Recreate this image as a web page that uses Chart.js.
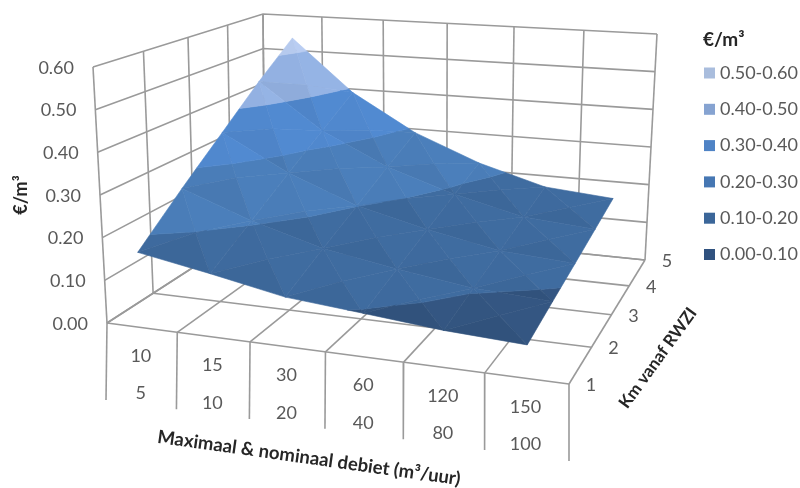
<!DOCTYPE html>
<html lang="nl">
<head>
<meta charset="UTF-8" />
<title>Kosten per m3</title>
<script src="https://cdn.jsdelivr.net/npm/chart.js"></script>
<style>
  body { margin: 0; background: #fff; }
  canvas { display: block; filter: blur(0.55px); }
</style>
</head>
<body>
<canvas id="surface" width="800" height="488"></canvas>
<script>
// category labels
const maximaalDebiet = ['10', '15', '30', '60', '120', '150'];
const nominaalDebiet = ['5', '10', '20', '40', '80', '100'];
const kmLabels = ['1', '2', '3', '4', '5'];
const zTicks = [0, 0.1, 0.2, 0.3, 0.4, 0.5, 0.6];

// euro per m3, one list per km
const costKm1 = [0.175, 0.145, 0.112, 0.097, 0.081, 0.072];
const costKm2 = [0.268, 0.206, 0.157, 0.128, 0.103, 0.093];
const costKm3 = [0.358, 0.268, 0.201, 0.159, 0.125, 0.113];
const costKm4 = [0.450, 0.329, 0.246, 0.190, 0.148, 0.134];
const costKm5 = [0.535, 0.390, 0.290, 0.220, 0.170, 0.155];
const costRows = [costKm1, costKm2, costKm3, costKm4, costKm5];

// legend, bottom band first
const bandLabels = ['0.00-0.10', '0.10-0.20', '0.20-0.30', '0.30-0.40', '0.40-0.50', '0.50-0.60'];
const bandFrom = [0, 0.1, 0.2, 0.3, 0.4, 0.5];
const bandTo = [0.1, 0.2, 0.3, 0.4, 0.5, 0.6];

// styles
const surfaceColors = [[51, 85, 128], [62, 106, 158], [74, 125, 184], [80, 136, 206], [147, 177, 226], [182, 202, 238]];
const legendColors = ['#30527f', '#3b6699', '#4677b3', '#4f83c5', '#86a3d1', '#a9bddd'];
const sideShade = { back: 1.015, left: 1.0, right: 1.015, front: 0.97 };
const gridColor = '#9a9a9a';
const tickColor = '#595959';
const titleColor = '#262626';
const fontName = 'Lato, "Open Sans", sans-serif';

// camera: corners of the box on the page (front left, front right, back right, back left)
const floorCorners = [[107, 323], [569, 384], [645, 260], [265, 221]];
const topCorners = [[93, 67], [580, 103], [657, 34], [263, 14]];
const zMax = 0.6;

function makeQuad(c) {
  const dx1 = c[1][0] - c[2][0], dx2 = c[3][0] - c[2][0], sx = c[0][0] - c[1][0] + c[2][0] - c[3][0];
  const dy1 = c[1][1] - c[2][1], dy2 = c[3][1] - c[2][1], sy = c[0][1] - c[1][1] + c[2][1] - c[3][1];
  const den = dx1 * dy2 - dx2 * dy1;
  const g = (sx * dy2 - dx2 * sy) / den;
  const h = (dx1 * sy - sx * dy1) / den;
  const a = c[1][0] - c[0][0] + g * c[1][0], b = c[3][0] - c[0][0] + h * c[3][0];
  const d = c[1][1] - c[0][1] + g * c[1][1], e = c[3][1] - c[0][1] + h * c[3][1];
  return function (u, v) {
    const w = g * u + h * v + 1;
    return [(a * u + b * v + c[0][0]) / w, (d * u + e * v + c[0][1]) / w];
  };
}
const floorQuad = makeQuad(floorCorners);
const topQuad = makeQuad(topCorners);

function project(u, v, z) {
  const p = floorQuad(u, v), q = topQuad(u, v), t = z / zMax;
  return { x: p[0] + (q[0] - p[0]) * t, y: p[1] + (q[1] - p[1]) * t };
}

const datasets = [];

function addGrid(points) {
  datasets.push({ data: points, showLine: true, borderColor: gridColor, borderWidth: 1.6, pointRadius: 0, fill: false });
}

// walls and floor
zTicks.forEach(z => {
  addGrid([project(0, 0, z), project(0, 1, z), project(1, 1, z)]);
});
kmLabels.forEach((km, j) => {
  const v = j / 4;
  addGrid([project(0, v, 0), project(0, v, zMax)]);
  addGrid([project(0, v, 0), project(1, v, 0)]);
});
for (let i = 0; i <= maximaalDebiet.length; i++) {
  const u = i / maximaalDebiet.length;
  addGrid([project(u, 1, 0), project(u, 1, zMax)]);
  addGrid([project(u, 0, 0), project(u, 1, 0)]);
  // separators of the two label rows
  const foot = project(u, 0, 0);
  addGrid([foot, { x: foot.x - 1 + u, y: foot.y + 77 }]);
}

// cut a polygon to the part between two heights
function clipAbove(poly, level, keepAbove) {
  const out = [];
  poly.forEach((a, n) => {
    const b = poly[(n + 1) % poly.length];
    const aIn = keepAbove ? a.z >= level : a.z <= level;
    const bIn = keepAbove ? b.z >= level : b.z <= level;
    if (aIn) out.push(a);
    if (aIn !== bIn) {
      const t = (level - a.z) / (b.z - a.z);
      out.push({ u: a.u + (b.u - a.u) * t, v: a.v + (b.v - a.v) * t, z: level });
    }
  });
  return out;
}

function addFacet(tri, side) {
  bandFrom.forEach((from, b) => {
    const poly = clipAbove(clipAbove(tri, from, true), bandTo[b], false);
    if (poly.length < 3) return;
    const pts = poly.map(p => project(p.u, p.v, p.z));
    pts.push(pts[0]);
    const rgb = surfaceColors[b].map(c => Math.min(255, Math.round(c * sideShade[side])));
    const color = 'rgb(' + rgb.join(',') + ')';
    datasets.push({ data: pts, showLine: true, borderColor: color, borderWidth: 0.6, backgroundColor: color, pointRadius: 0, fill: 'shape' });
  });
}

// back row first, every cell is split in four around its middle
const nx = maximaalDebiet.length;
for (let j = costRows.length - 2; j >= 0; j--) {
  for (let i = 0; i < nx - 1; i++) {
    const u0 = (i + 0.5) / nx, u1 = (i + 1.5) / nx, v0 = j / 4, v1 = (j + 1) / 4;
    const a = { u: u0, v: v0, z: costRows[j][i] };
    const b = { u: u1, v: v0, z: costRows[j][i + 1] };
    const c = { u: u1, v: v1, z: costRows[j + 1][i + 1] };
    const d = { u: u0, v: v1, z: costRows[j + 1][i] };
    const m = { u: (u0 + u1) / 2, v: (v0 + v1) / 2, z: (a.z + b.z + c.z + d.z) / 4 };
    addFacet([d, c, m], 'back');
    addFacet([a, d, m], 'left');
    addFacet([b, c, m], 'right');
    addFacet([a, b, m], 'front');
  }
}

// first dataset is drawn last by Chart.js, so turn the list around
datasets.reverse();

function putText(ctx, text, x, y, font, color, align, angle) {
  ctx.save();
  ctx.translate(x, y);
  ctx.rotate((angle || 0) * Math.PI / 180);
  ctx.font = font;
  ctx.fillStyle = color;
  ctx.textAlign = align || 'center';
  ctx.textBaseline = 'middle';
  ctx.fillText(text, 0, 0);
  ctx.restore();
}

const labelPlugin = {
  id: 'labels',
  afterDatasetsDraw(chart) {
    const ctx = chart.ctx;
    const sx = chart.scales.x, sy = chart.scales.y;
    const px = p => sx.getPixelForValue(p.x);
    const py = p => sy.getPixelForValue(p.y);
    const tickFont = '18px ' + fontName;

    zTicks.forEach(z => {
      const p = project(0, 0, z);
      putText(ctx, z.toFixed(2), px(p) - 19, py(p) + 1, tickFont, tickColor, 'right');
    });
    maximaalDebiet.forEach((label, i) => {
      const p = project((i + 0.5) / nx, 0, 0);
      putText(ctx, label, px(p) - 1, py(p) + 28.5, tickFont, tickColor);
      putText(ctx, nominaalDebiet[i], px(p) - 1, py(p) + 66, tickFont, tickColor);
    });
    kmLabels.forEach((label, j) => {
      const p = project(1, j / 4, 0);
      putText(ctx, label, px(p) + 22, py(p) + 1, tickFont, tickColor);
    });

    putText(ctx, '€/m³', 21, 195, 'bold 18px ' + fontName, titleColor, 'center', -90);
    putText(ctx, 'Maximaal & nominaal debiet (m³/uur)', 309, 458, 'bold 18.5px ' + fontName, titleColor, 'center', 8);
    putText(ctx, 'Km vanaf RWZI', 658, 358, 'bold 17px ' + fontName, titleColor, 'center', -54);

    // legend, top band first
    putText(ctx, '€/m³', 703, 40, 'bold 19px ' + fontName, titleColor, 'left');
    for (let b = bandLabels.length - 1, row = 0; b >= 0; b--, row++) {
      const y = 73 + row * 36.3;
      ctx.fillStyle = legendColors[b];
      ctx.fillRect(704, y - 5.5, 11, 11);
      putText(ctx, bandLabels[b], 720, y, tickFont, tickColor, 'left');
    }
  }
};

new Chart(document.getElementById('surface').getContext('2d'), {
  type: 'scatter',
  data: { datasets: datasets },
  options: {
    responsive: false,
    animation: false,
    layout: { padding: 0 },
    elements: { line: { tension: 0 } },
    plugins: { legend: { display: false }, tooltip: { enabled: false } },
    scales: {
      x: { type: 'linear', min: 0, max: 800, display: false },
      y: { type: 'linear', min: 0, max: 488, reverse: true, display: false }
    }
  },
  plugins: [labelPlugin]
});
</script>
</body>
</html>
